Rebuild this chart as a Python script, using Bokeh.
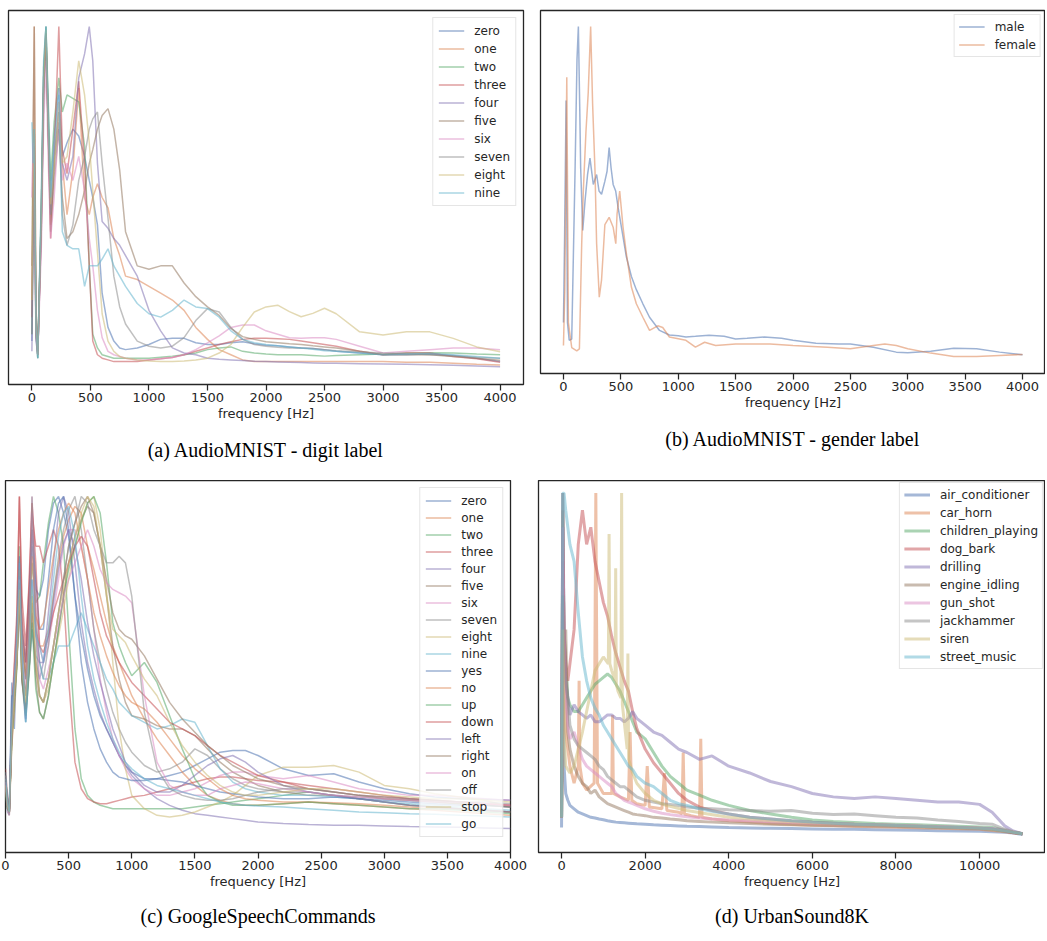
from bokeh.plotting import figure
from bokeh.models import Range1d, Legend, LegendItem, Title, FixedTicker
from bokeh.layouts import column, row
from bokeh.embed import file_html
from bokeh.resources import INLINE

DEEP = ["#4C72B0", "#DD8452", "#55A868", "#C44E52", "#8172B3",
        "#937860", "#DA8BC3", "#8C8C8C", "#CCB974", "#64B5CD"]
INK = "#262626"

# ---------------- (a) AudioMNIST - digit label ----------------
freq_a = [0, 10, 20, 35, 50, 80, 100, 120, 140, 160, 190, 230,
          260, 300, 350, 400, 450, 490, 520, 560, 600, 650, 700, 750, 800, 900, 1000, 1100, 1200,
          1300, 1400, 1500, 1600, 1700, 1800, 1900, 2000, 2100, 2200, 2300, 2400, 2500, 2600,
          2800, 3000, 3200, 3400, 3600, 3800, 4000]
a_zero = [0.08, 0.5, 0.65, 0.15, 0.03, 0.45, 0.85, 1.0, 0.72, 0.5, 0.68, 0.82,
          0.62, 0.66, 0.7, 0.68, 0.62, 0.55, 0.5, 0.42, 0.22, 0.12, 0.08, 0.06, 0.055, 0.06, 0.07, 0.085, 0.088,
          0.088, 0.075, 0.07, 0.07, 0.075, 0.078, 0.072, 0.068, 0.066, 0.063, 0.06, 0.058, 0.055, 0.05,
          0.045, 0.04, 0.04, 0.042, 0.038, 0.03, 0.02]
a_one = [0.2, 0.6, 1.0, 0.12, 0.04, 0.4, 0.8, 0.98, 0.7, 0.42, 0.6, 0.78,
         0.6, 0.45, 0.58, 0.82, 0.5, 0.45, 0.5, 0.54, 0.5, 0.47, 0.38, 0.33, 0.27, 0.26, 0.24, 0.22, 0.2,
         0.17, 0.12, 0.085, 0.055, 0.04, 0.025, 0.02, 0.02, 0.02, 0.02, 0.02, 0.02, 0.02, 0.02,
         0.02, 0.02, 0.018, 0.018, 0.015, 0.012, 0.01]
a_two = [0.1, 0.4, 0.6, 0.1, 0.03, 0.48, 0.88, 1.0, 0.78, 0.55, 0.72, 0.85,
         0.75, 0.8, 0.79, 0.78, 0.65, 0.3, 0.1, 0.06, 0.04, 0.035, 0.03, 0.03, 0.03, 0.03, 0.03, 0.033, 0.036,
         0.04, 0.045, 0.055, 0.06, 0.063, 0.05, 0.045, 0.042, 0.04, 0.04, 0.04, 0.038, 0.036, 0.038,
         0.04, 0.042, 0.045, 0.046, 0.045, 0.042, 0.04]
a_three = [0.15, 0.45, 0.7, 0.1, 0.05, 0.42, 0.82, 0.97, 0.68, 0.38, 0.62, 1.0,
           0.64, 0.57, 0.7, 0.84, 0.6, 0.3, 0.08, 0.04, 0.03, 0.025, 0.02, 0.02, 0.02, 0.02, 0.025, 0.028, 0.032,
           0.04, 0.05, 0.06, 0.07, 0.078, 0.085, 0.088, 0.088, 0.087, 0.085, 0.08, 0.075, 0.07, 0.065,
           0.05, 0.04, 0.045, 0.045, 0.035, 0.028, 0.018]
a_four = [0.05, 0.35, 0.55, 0.08, 0.04, 0.4, 0.8, 0.95, 0.7, 0.45, 0.62, 0.75,
          0.6, 0.55, 0.62, 0.85, 0.92, 1.0, 0.9, 0.6, 0.43, 0.41, 0.38, 0.36, 0.33, 0.27, 0.17, 0.11, 0.06,
          0.045, 0.04, 0.03, 0.027, 0.025, 0.023, 0.021, 0.02, 0.019, 0.018, 0.017, 0.016, 0.015, 0.015,
          0.014, 0.013, 0.012, 0.011, 0.009, 0.007, 0.005]
a_five = [0.3, 0.7, 1.0, 0.15, 0.05, 0.45, 0.85, 0.98, 0.7, 0.4, 0.55, 0.7,
          0.5, 0.38, 0.4, 0.45, 0.52, 0.6, 0.64, 0.7, 0.74, 0.76, 0.7, 0.58, 0.4, 0.3, 0.29, 0.3, 0.3,
          0.25, 0.21, 0.18, 0.155, 0.117, 0.093, 0.085, 0.078, 0.075, 0.072, 0.07, 0.066, 0.063, 0.06,
          0.05, 0.04, 0.04, 0.04, 0.035, 0.03, 0.024]
a_six = [0.5, 0.66, 0.55, 0.1, 0.04, 0.35, 0.7, 0.9, 0.6, 0.38, 0.5, 0.72,
         0.55, 0.6, 0.55, 0.62, 0.52, 0.38, 0.3, 0.17, 0.09, 0.05, 0.04, 0.035, 0.03, 0.025, 0.025, 0.028, 0.032,
         0.04, 0.055, 0.075, 0.095, 0.12, 0.127, 0.127, 0.11, 0.1, 0.09, 0.088, 0.09, 0.09, 0.085,
         0.065, 0.045, 0.05, 0.055, 0.06, 0.06, 0.055]
a_seven = [0.1, 0.45, 0.62, 0.1, 0.04, 0.42, 0.8, 0.96, 0.68, 0.45, 0.6, 0.72,
           0.45, 0.36, 0.42, 0.55, 0.62, 0.7, 0.73, 0.75, 0.6, 0.44, 0.27, 0.18, 0.13, 0.08, 0.065, 0.06, 0.065,
           0.09, 0.14, 0.175, 0.165, 0.12, 0.085, 0.07, 0.065, 0.062, 0.06, 0.06, 0.058, 0.055, 0.052,
           0.048, 0.045, 0.043, 0.04, 0.037, 0.033, 0.03]
a_eight = [0.2, 0.5, 0.7, 0.12, 0.04, 0.45, 0.84, 0.99, 0.72, 0.48, 0.6, 0.75,
           0.6, 0.62, 0.75, 0.9, 0.8, 0.66, 0.52, 0.34, 0.16, 0.08, 0.05, 0.035, 0.03, 0.025, 0.022, 0.02, 0.02,
           0.022, 0.025, 0.03, 0.045, 0.07, 0.12, 0.165, 0.18, 0.185, 0.166, 0.151, 0.161, 0.176, 0.16,
           0.107, 0.098, 0.107, 0.107, 0.088, 0.063, 0.049]
a_nine = [0.72, 0.6, 0.7, 0.12, 0.03, 0.5, 0.9, 1.0, 0.75, 0.5, 0.65, 0.8,
          0.4, 0.36, 0.35, 0.35, 0.24, 0.3, 0.3, 0.3, 0.32, 0.35, 0.3, 0.27, 0.24, 0.19, 0.16, 0.15, 0.17,
          0.2, 0.18, 0.175, 0.15, 0.11, 0.085, 0.075, 0.07, 0.066, 0.063, 0.06, 0.056, 0.052, 0.05,
          0.045, 0.04, 0.042, 0.044, 0.04, 0.035, 0.03]
digit_labels = ["zero", "one", "two", "three", "four", "five", "six", "seven", "eight", "nine"]
digit_values = [a_zero, a_one, a_two, a_three, a_four, a_five, a_six, a_seven, a_eight, a_nine]

# ---------------- (b) AudioMNIST - gender label ----------------
male_x = [0, 10, 23, 35, 50, 72, 101, 118, 130, 142, 150, 168, 188, 210, 231, 260, 289, 310, 332, 361,
          380, 398, 415, 433, 455, 476, 505, 548, 592, 635, 692, 750, 837, 923, 1000, 1067, 1150, 1269,
          1400, 1500, 1600, 1750, 1900, 2000, 2200, 2400, 2500, 2700, 2900, 3000, 3200, 3400, 3600, 3800, 4000]
male_y = [0.1, 0.36, 0.775, 0.1, 0.046, 0.05, 0.56, 0.9, 1.0, 0.75, 0.57, 0.38, 0.47, 0.55, 0.6, 0.52, 0.55,
          0.5, 0.49, 0.53, 0.56, 0.632, 0.57, 0.52, 0.5, 0.45, 0.39, 0.3, 0.24, 0.2, 0.157, 0.116, 0.076,
          0.062, 0.06, 0.056, 0.058, 0.061, 0.058, 0.05, 0.052, 0.056, 0.052, 0.046, 0.037, 0.035, 0.035,
          0.025, 0.01, 0.008, 0.013, 0.022, 0.02, 0.01, 0.002]
female_x = [0, 12, 29, 43, 72, 116, 139, 159, 173, 196, 216, 237, 254, 275, 289, 312, 332, 361, 398, 433,
            456, 467, 490, 519, 548, 592, 635, 692, 750, 822, 865, 923, 1067, 1150, 1230, 1326, 1500, 1800,
            2000, 2300, 2500, 2700, 2800, 2900, 3000, 3200, 3400, 3600, 3800, 4000]
female_y = [0.03, 0.2, 0.846, 0.1, 0.024, 0.014, 0.02, 0.34, 0.5, 0.68, 0.8, 1.0, 0.765, 0.56, 0.34, 0.177,
            0.23, 0.398, 0.42, 0.39, 0.34, 0.43, 0.5, 0.39, 0.31, 0.208, 0.157, 0.116, 0.076, 0.09, 0.085,
            0.056, 0.046, 0.025, 0.04, 0.03, 0.035, 0.035, 0.03, 0.025, 0.02, 0.03, 0.035, 0.03, 0.02,
            0.007, -0.003, -0.003, 0.0, 0.003]
gender_labels = ["male", "female"]

# ---------------- (c) GoogleSpeechCommands ----------------
freq_c = [0, 15, 30, 50, 70, 90, 110, 130, 160, 190, 210, 240,
          270, 300, 340, 380, 420, 460, 500, 550, 600, 650, 700, 750, 800, 850, 900, 950, 1000, 1100,
          1200, 1300, 1400, 1500, 1600, 1700, 1800, 1900, 2000, 2200, 2400, 2600, 2800, 3000, 3200,
          3400, 3600, 3800, 4000]
c_zero = [0.15, 0.08, 0.05, 0.44, 0.3, 0.55, 0.8, 0.55, 0.45, 0.7, 0.85, 0.72,
          0.7, 0.75, 0.9, 0.98, 1.0, 0.95, 0.88, 0.7, 0.58, 0.48, 0.4, 0.34, 0.3, 0.26, 0.22, 0.19, 0.17,
          0.15, 0.15, 0.16, 0.17, 0.19, 0.21, 0.23, 0.235, 0.235, 0.22, 0.18, 0.16, 0.165, 0.14, 0.12,
          0.105, 0.095, 0.09, 0.088, 0.085]
c_one = [0.12, 0.06, 0.04, 0.25, 0.35, 0.5, 0.75, 0.5, 0.4, 0.55, 0.7, 0.6,
         0.55, 0.55, 0.6, 0.7, 0.8, 0.88, 0.93, 0.97, 0.95, 0.85, 0.78, 0.7, 0.62, 0.55, 0.5, 0.45, 0.4,
         0.33, 0.27, 0.22, 0.17, 0.13, 0.1, 0.085, 0.075, 0.07, 0.07, 0.075, 0.08, 0.075, 0.07, 0.065,
         0.06, 0.055, 0.05, 0.045, 0.04]
c_two = [0.1, 0.06, 0.05, 0.3, 0.4, 0.55, 0.85, 0.6, 0.45, 0.65, 0.8, 0.68,
         0.7, 0.8, 0.92, 1.0, 0.95, 0.85, 0.6, 0.3, 0.15, 0.1, 0.08, 0.07, 0.065, 0.06, 0.06, 0.06, 0.06,
         0.06, 0.06, 0.06, 0.06, 0.065, 0.07, 0.075, 0.08, 0.085, 0.09, 0.1, 0.11, 0.1, 0.09, 0.08,
         0.07, 0.065, 0.06, 0.055, 0.05]
c_three = [0.18, 0.1, 0.06, 0.35, 0.5, 0.65, 1.0, 0.7, 0.55, 0.75, 0.95, 0.85,
           0.85, 0.8, 0.85, 0.9, 0.85, 0.7, 0.45, 0.2, 0.12, 0.09, 0.08, 0.075, 0.075, 0.08, 0.085, 0.09, 0.095,
           0.1, 0.11, 0.12, 0.13, 0.14, 0.15, 0.155, 0.155, 0.15, 0.145, 0.14, 0.13, 0.12, 0.11, 0.1,
           0.09, 0.085, 0.08, 0.075, 0.07]
c_four = [0.12, 0.05, 0.04, 0.3, 0.45, 0.5, 0.7, 0.45, 0.32, 0.5, 0.6, 0.5,
          0.45, 0.5, 0.65, 0.8, 0.95, 1.0, 0.95, 0.8, 0.62, 0.5, 0.42, 0.35, 0.3, 0.26, 0.22, 0.19, 0.16,
          0.12, 0.09, 0.07, 0.055, 0.045, 0.04, 0.035, 0.03, 0.025, 0.02, 0.015, 0.012, 0.01, 0.01, 0.008,
          0.006, 0.005, 0.004, 0.002, 0.0]
c_five = [0.16, 0.08, 0.05, 0.28, 0.4, 0.5, 0.75, 0.45, 0.35, 0.5, 0.65, 0.45,
          0.35, 0.33, 0.4, 0.5, 0.6, 0.7, 0.8, 0.88, 0.93, 0.97, 0.95, 0.85, 0.7, 0.55, 0.45, 0.38, 0.34,
          0.33, 0.31, 0.3, 0.3, 0.28, 0.24, 0.2, 0.17, 0.15, 0.13, 0.11, 0.1, 0.1, 0.09, 0.08,
          0.07, 0.065, 0.06, 0.055, 0.05]
c_six = [0.14, 0.07, 0.05, 0.3, 0.45, 0.6, 0.8, 0.6, 0.48, 0.7, 1.0, 0.7,
         0.55, 0.5, 0.55, 0.65, 0.75, 0.85, 0.9, 0.9, 0.85, 0.75, 0.6, 0.45, 0.35, 0.27, 0.22, 0.18, 0.15,
         0.12, 0.1, 0.1, 0.11, 0.12, 0.14, 0.16, 0.17, 0.17, 0.16, 0.15, 0.16, 0.14, 0.12, 0.11,
         0.1, 0.1, 0.095, 0.09, 0.085]
c_seven = [0.15, 0.08, 0.06, 0.32, 0.42, 0.55, 0.78, 0.55, 0.45, 0.65, 0.9, 0.65,
           0.5, 0.45, 0.55, 0.7, 0.82, 0.9, 0.96, 1.0, 0.9, 0.75, 0.6, 0.5, 0.42, 0.35, 0.3, 0.26, 0.23,
           0.19, 0.17, 0.18, 0.2, 0.24, 0.22, 0.18, 0.15, 0.13, 0.12, 0.11, 0.11, 0.1, 0.095, 0.09,
           0.085, 0.08, 0.075, 0.07, 0.065]
c_eight = [0.13, 0.07, 0.05, 0.27, 0.38, 0.5, 0.72, 0.48, 0.38, 0.55, 0.7, 0.5,
           0.4, 0.38, 0.42, 0.5, 0.58, 0.66, 0.75, 0.85, 0.93, 0.98, 1.0, 0.9, 0.72, 0.5, 0.3, 0.18, 0.1,
           0.06, 0.04, 0.035, 0.04, 0.05, 0.065, 0.08, 0.1, 0.13, 0.16, 0.185, 0.185, 0.19, 0.17, 0.13,
           0.12, 0.105, 0.095, 0.085, 0.065]
c_nine = [0.17, 0.09, 0.06, 0.33, 0.45, 0.5, 0.7, 0.5, 0.32, 0.5, 0.6, 0.52,
          0.5, 0.45, 0.45, 0.5, 0.55, 0.55, 0.55, 0.6, 0.65, 0.6, 0.55, 0.5, 0.45, 0.42, 0.38, 0.36, 0.34,
          0.32, 0.3, 0.31, 0.33, 0.32, 0.25, 0.18, 0.14, 0.12, 0.11, 0.1, 0.1, 0.095, 0.09, 0.08,
          0.075, 0.07, 0.065, 0.06, 0.055]
c_yes = [0.15, 0.07, 0.05, 0.4, 0.4, 0.6, 0.82, 0.6, 0.5, 0.72, 0.9, 0.75,
         0.6, 0.6, 0.75, 0.9, 0.98, 1.0, 0.9, 0.7, 0.5, 0.38, 0.3, 0.24, 0.2, 0.17, 0.155, 0.15, 0.145,
         0.145, 0.15, 0.145, 0.14, 0.13, 0.12, 0.11, 0.105, 0.1, 0.095, 0.09, 0.09, 0.095, 0.09, 0.085,
         0.08, 0.075, 0.07, 0.07, 0.065]
c_no = [0.13, 0.07, 0.05, 0.3, 0.42, 0.55, 0.78, 0.58, 0.46, 0.66, 0.82, 0.64,
        0.6, 0.62, 0.72, 0.82, 0.9, 0.95, 0.98, 0.95, 0.85, 0.75, 0.65, 0.58, 0.52, 0.47, 0.43, 0.4, 0.38,
        0.36, 0.32, 0.27, 0.22, 0.18, 0.15, 0.12, 0.1, 0.09, 0.085, 0.08, 0.08, 0.078, 0.075, 0.07,
        0.065, 0.06, 0.06, 0.055, 0.05]
c_up = [0.12, 0.06, 0.05, 0.26, 0.38, 0.48, 0.72, 0.45, 0.34, 0.48, 0.62, 0.42,
        0.35, 0.33, 0.4, 0.5, 0.6, 0.7, 0.78, 0.85, 0.92, 0.98, 1.0, 0.95, 0.8, 0.62, 0.55, 0.5, 0.46,
        0.5, 0.44, 0.34, 0.24, 0.15, 0.1, 0.08, 0.07, 0.07, 0.07, 0.075, 0.08, 0.075, 0.07, 0.065,
        0.06, 0.06, 0.055, 0.05, 0.045]
c_down = [0.16, 0.08, 0.05, 0.32, 0.48, 0.62, 1.0, 0.65, 0.5, 0.78, 0.98, 0.8,
          0.55, 0.53, 0.58, 0.65, 0.7, 0.75, 0.8, 0.85, 0.88, 0.85, 0.75, 0.65, 0.58, 0.54, 0.5, 0.47, 0.44,
          0.4, 0.36, 0.32, 0.3, 0.28, 0.25, 0.22, 0.2, 0.18, 0.16, 0.14, 0.12, 0.11, 0.1, 0.095,
          0.09, 0.085, 0.08, 0.075, 0.07]
c_left = [0.14, 0.07, 0.05, 0.3, 0.45, 0.55, 0.76, 0.5, 0.33, 0.6, 0.75, 0.6,
          0.5, 0.5, 0.58, 0.68, 0.78, 0.86, 0.9, 0.85, 0.75, 0.62, 0.52, 0.44, 0.37, 0.3, 0.25, 0.2, 0.17,
          0.13, 0.11, 0.11, 0.13, 0.16, 0.19, 0.21, 0.22, 0.2, 0.17, 0.13, 0.11, 0.1, 0.09, 0.08,
          0.07, 0.065, 0.06, 0.055, 0.05]
c_right = [0.15, 0.08, 0.05, 0.28, 0.4, 0.5, 0.7, 0.45, 0.36, 0.5, 0.68, 0.48,
           0.4, 0.38, 0.45, 0.55, 0.65, 0.75, 0.85, 0.92, 0.97, 1.0, 0.95, 0.85, 0.75, 0.65, 0.6, 0.58, 0.57,
           0.52, 0.45, 0.38, 0.33, 0.29, 0.25, 0.22, 0.19, 0.17, 0.15, 0.13, 0.12, 0.11, 0.1, 0.09,
           0.085, 0.08, 0.075, 0.07, 0.065]
c_on = [0.14, 0.07, 0.05, 0.3, 0.43, 0.55, 0.75, 0.52, 0.42, 0.62, 0.95, 0.6,
        0.45, 0.42, 0.48, 0.55, 0.62, 0.7, 0.75, 0.8, 0.85, 0.9, 0.85, 0.78, 0.74, 0.72, 0.71, 0.7, 0.68,
        0.4, 0.2, 0.13, 0.11, 0.1, 0.1, 0.12, 0.13, 0.14, 0.135, 0.12, 0.11, 0.1, 0.095, 0.09,
        0.085, 0.08, 0.08, 0.075, 0.07]
c_off = [0.15, 0.08, 0.05, 0.3, 0.42, 0.52, 0.74, 0.5, 0.4, 0.6, 1.0, 0.58,
         0.4, 0.38, 0.45, 0.55, 0.65, 0.75, 0.85, 0.92, 1.0, 0.98, 0.9, 0.85, 0.8, 0.8, 0.82, 0.8, 0.7,
         0.35, 0.18, 0.12, 0.1, 0.09, 0.085, 0.085, 0.09, 0.1, 0.11, 0.12, 0.12, 0.11, 0.1, 0.095,
         0.09, 0.085, 0.08, 0.08, 0.075]
c_stop = [0.13, 0.07, 0.05, 0.28, 0.4, 0.5, 0.72, 0.48, 0.38, 0.55, 0.72, 0.5,
          0.4, 0.38, 0.45, 0.55, 0.65, 0.72, 0.8, 0.88, 0.95, 1.0, 0.97, 0.85, 0.7, 0.6, 0.58, 0.56, 0.52,
          0.45, 0.4, 0.32, 0.25, 0.2, 0.16, 0.13, 0.11, 0.1, 0.1, 0.11, 0.12, 0.12, 0.11, 0.1,
          0.095, 0.09, 0.09, 0.085, 0.08]
c_go = [0.16, 0.08, 0.05, 0.35, 0.45, 0.58, 0.8, 0.55, 0.32, 0.55, 0.75, 0.58,
        0.55, 0.5, 0.6, 0.75, 0.88, 0.95, 0.97, 0.88, 0.7, 0.55, 0.45, 0.38, 0.32, 0.27, 0.23, 0.2, 0.18,
        0.15, 0.13, 0.12, 0.11, 0.1, 0.09, 0.08, 0.075, 0.07, 0.068, 0.065, 0.06, 0.055, 0.05, 0.048,
        0.045, 0.043, 0.04, 0.038, 0.035]
command_labels = ["zero", "one", "two", "three", "four", "five", "six", "seven", "eight", "nine",
                  "yes", "no", "up", "down", "left", "right", "on", "off", "stop", "go"]
command_values = [c_zero, c_one, c_two, c_three, c_four, c_five, c_six, c_seven, c_eight, c_nine,
                  c_yes, c_no, c_up, c_down, c_left, c_right, c_on, c_off, c_stop, c_go]

# ---------------- (d) UrbanSound8K ----------------
freq_d = [0, 30, 60, 100, 150, 200, 300, 400, 500, 600, 700, 800, 900, 1000, 1100, 1200, 1300, 1400,
          1500, 1600, 1700, 1800, 2000, 2200, 2400, 2600, 2800, 3000, 3300, 3600, 4000, 4500, 5000,
          5500, 6000, 6500, 7000, 7500, 8000, 8500, 9000, 9500, 10000, 10300, 10600, 10800, 11025]
d_air = [0.02, 0.6, 0.2, 0.12, 0.1, 0.085, 0.075, 0.065, 0.06, 0.055, 0.05, 0.048, 0.045, 0.043, 0.04,
         0.038, 0.036, 0.035, 0.034, 0.033, 0.032, 0.031, 0.03, 0.028, 0.027, 0.026, 0.025, 0.024, 0.023,
         0.022, 0.02, 0.019, 0.018, 0.017, 0.016, 0.015, 0.015, 0.014, 0.013, 0.012, 0.011, 0.01, 0.009,
         0.008, 0.006, 0.004, 0.0]
horn_x = [0, 30, 60, 100, 200, 300, 400, 420, 440, 500, 600, 780, 820, 860, 1000, 1200, 1220, 1240, 1400,
          1600, 1640, 1680, 1800, 2000, 2050, 2100, 2400, 2460, 2520, 2800, 2880, 2910, 2940, 3100, 3300,
          3330, 3360, 3600, 4000, 5000, 6000, 7000, 8000, 9000, 10000, 10600, 11025]
horn_y = [0.05, 0.95, 0.5, 0.3, 0.2, 0.15, 0.2, 0.45, 0.2, 0.15, 0.13, 0.15, 1.0, 0.15, 0.12, 0.12, 0.35,
          0.12, 0.11, 0.1, 0.3, 0.1, 0.09, 0.085, 0.2, 0.08, 0.075, 0.18, 0.07, 0.065, 0.06, 0.24, 0.06,
          0.055, 0.05, 0.28, 0.05, 0.045, 0.04, 0.032, 0.027, 0.024, 0.021, 0.018, 0.015, 0.008, 0.002]
d_children = [0.05, 0.9, 0.6, 0.5, 0.4, 0.38, 0.36, 0.36, 0.38, 0.4, 0.42, 0.44, 0.45, 0.46, 0.47, 0.46,
              0.44, 0.42, 0.39, 0.36, 0.33, 0.3, 0.28, 0.24, 0.2, 0.17, 0.15, 0.13, 0.115, 0.1, 0.085,
              0.07, 0.06, 0.05, 0.042, 0.038, 0.035, 0.032, 0.03, 0.028, 0.026, 0.024, 0.022, 0.02,
              0.012, 0.006, 0.002]
d_dog = [0.05, 0.8, 0.6, 0.5, 0.45, 0.5, 0.6, 0.85, 0.95, 0.85, 0.9, 0.8, 0.74, 0.68, 0.64, 0.58, 0.53,
         0.49, 0.45, 0.42, 0.36, 0.31, 0.25, 0.21, 0.18, 0.15, 0.12, 0.1, 0.08, 0.07, 0.06, 0.05, 0.045,
         0.04, 0.036, 0.033, 0.03, 0.028, 0.026, 0.024, 0.022, 0.02, 0.018, 0.016, 0.01, 0.005, 0.002]
d_drilling = [0.1, 1.0, 0.6, 0.45, 0.4, 0.35, 0.38, 0.36, 0.35, 0.34, 0.35, 0.33, 0.33, 0.34, 0.35, 0.35,
              0.34, 0.34, 0.33, 0.34, 0.36, 0.34, 0.32, 0.3, 0.29, 0.27, 0.25, 0.24, 0.22, 0.23, 0.2,
              0.18, 0.155, 0.14, 0.12, 0.11, 0.105, 0.11, 0.105, 0.1, 0.095, 0.095, 0.088, 0.065, 0.025,
              0.01, 0.002]
d_engine = [0.05, 1.0, 0.5, 0.6, 0.3, 0.25, 0.2, 0.17, 0.15, 0.14, 0.12, 0.13, 0.11, 0.1, 0.09, 0.085,
            0.08, 0.075, 0.07, 0.065, 0.06, 0.058, 0.055, 0.05, 0.048, 0.045, 0.043, 0.04, 0.038, 0.036,
            0.034, 0.032, 0.03, 0.028, 0.027, 0.026, 0.025, 0.024, 0.023, 0.022, 0.02, 0.019, 0.017,
            0.015, 0.01, 0.006, 0.002]
d_gun = [0.05, 0.9, 0.6, 0.4, 0.32, 0.28, 0.3, 0.26, 0.22, 0.2, 0.19, 0.18, 0.17, 0.16, 0.15, 0.14, 0.12,
         0.11, 0.1, 0.095, 0.09, 0.085, 0.075, 0.068, 0.062, 0.058, 0.055, 0.052, 0.048, 0.045, 0.042,
         0.04, 0.037, 0.035, 0.033, 0.031, 0.03, 0.028, 0.027, 0.025, 0.023, 0.021, 0.019, 0.017, 0.012,
         0.007, 0.002]
d_jack = [0.05, 0.7, 0.5, 0.45, 0.4, 0.32, 0.28, 0.26, 0.25, 0.24, 0.23, 0.22, 0.2, 0.19, 0.17, 0.16,
          0.15, 0.14, 0.14, 0.13, 0.12, 0.11, 0.1, 0.095, 0.09, 0.088, 0.085, 0.08, 0.077, 0.075, 0.072,
          0.07, 0.068, 0.07, 0.062, 0.058, 0.06, 0.055, 0.05, 0.048, 0.042, 0.038, 0.032, 0.03, 0.015,
          0.008, 0.002]
siren_x = [0, 30, 60, 100, 200, 300, 400, 500, 600, 700, 800, 900, 1000, 1120, 1137, 1155, 1200, 1280,
           1295, 1310, 1350, 1420, 1437, 1455, 1500, 1570, 1587, 1605, 1700, 1800, 2000, 2200, 2500,
           3000, 3500, 4000, 5000, 6000, 7000, 8000, 9000, 10000, 10600, 11025]
siren_y = [0.05, 0.6, 0.3, 0.2, 0.18, 0.2, 0.25, 0.3, 0.36, 0.42, 0.48, 0.5, 0.52, 0.5, 0.88, 0.5, 0.48,
           0.45, 0.78, 0.44, 0.42, 0.4, 1.0, 0.38, 0.33, 0.25, 0.53, 0.22, 0.18, 0.15, 0.12, 0.1, 0.085,
           0.07, 0.06, 0.05, 0.04, 0.034, 0.03, 0.026, 0.022, 0.018, 0.01, 0.002]
d_street = [0.05, 1.0, 1.0, 0.95, 0.9, 0.85, 0.8, 0.65, 0.52, 0.45, 0.4, 0.37, 0.35, 0.32, 0.3, 0.28,
            0.26, 0.24, 0.22, 0.2, 0.19, 0.17, 0.15, 0.14, 0.12, 0.1, 0.09, 0.085, 0.075, 0.068, 0.06,
            0.05, 0.045, 0.04, 0.036, 0.033, 0.03, 0.028, 0.026, 0.024, 0.022, 0.02, 0.018, 0.016, 0.01,
            0.006, 0.002]
urban_labels = ["air_conditioner", "car_horn", "children_playing", "dog_bark", "drilling",
                "engine_idling", "gun_shot", "jackhammer", "siren", "street_music"]

ticks_4k = [0, 500, 1000, 1500, 2000, 2500, 3000, 3500, 4000]
ticks_11k = [0, 2000, 4000, 6000, 8000, 10000]


def make_panel(xr, yr, ticks, caption, fw, fh, bl, br, bt, bb, series, lw, alpha,
               leg_margin, leg_spacing, leg_padding, cap_standoff):
    p = figure(title=None, x_range=Range1d(*xr), y_range=Range1d(*yr),
               frame_width=fw, frame_height=fh, output_backend="svg", toolbar_location=None,
               y_axis_location=None, min_border_left=bl, min_border_right=br,
               min_border_top=bt, min_border_bottom=bb, background_fill_color="white",
               border_fill_color="white")
    p.xgrid.visible = False
    p.ygrid.visible = False
    p.outline_line_color = INK
    p.outline_line_width = 1.3
    p.outline_line_alpha = 1.0
    ax = p.xaxis[0]
    ax.ticker = FixedTicker(ticks=ticks)
    ax.axis_line_color = None
    ax.major_tick_line_color = INK
    ax.major_tick_line_width = 1.25
    ax.major_tick_out = 6
    ax.major_tick_in = 0
    ax.minor_tick_line_color = None
    ax.major_label_text_font = "DejaVu Sans"
    ax.major_label_text_font_size = "13px"
    ax.major_label_text_color = INK
    ax.major_label_standoff = 2
    ax.axis_label = "frequency [Hz]"
    ax.axis_label_text_font = "DejaVu Sans"
    ax.axis_label_text_font_size = "13px"
    ax.axis_label_text_font_style = "normal"
    ax.axis_label_text_color = INK
    ax.axis_label_standoff = 1
    items = []
    for i, (name, xs, ys) in enumerate(series):
        r = p.line(xs, ys, line_color=DEEP[i % 10], line_alpha=alpha, line_width=lw)
        items.append(LegendItem(label=name, renderers=[r]))
    leg = Legend(items=items, location="top_right", margin=leg_margin, padding=leg_padding,
                 spacing=leg_spacing, glyph_width=26, glyph_height=15, label_height=15,
                 label_standoff=10, label_text_font="DejaVu Sans", label_text_font_size="12px",
                 label_text_color=INK, border_line_color="#cccccc", border_line_width=1,
                 background_fill_color="white", background_fill_alpha=0.8)
    p.add_layout(leg)
    cap = Title(text=caption, align="center", text_font="Liberation Serif",
                text_font_size="20px", text_font_style="normal", text_color="black",
                standoff=cap_standoff)
    p.add_layout(cap, "below")
    return p


series_a = [(n, freq_a, v) for n, v in zip(digit_labels, digit_values)]
series_b = [(gender_labels[0], male_x, male_y), (gender_labels[1], female_x, female_y)]
series_c = [(n, freq_c, v) for n, v in zip(command_labels, command_values)]
series_d = [(urban_labels[0], freq_d, d_air), (urban_labels[1], horn_x, horn_y),
            (urban_labels[2], freq_d, d_children), (urban_labels[3], freq_d, d_dog),
            (urban_labels[4], freq_d, d_drilling), (urban_labels[5], freq_d, d_engine),
            (urban_labels[6], freq_d, d_gun), (urban_labels[7], freq_d, d_jack),
            (urban_labels[8], siren_x, siren_y), (urban_labels[9], freq_d, d_street)]

pa = make_panel((-200, 4200), (-0.047, 1.047), ticks_4k, "(a) AudioMNIST - digit label",
                515, 374, 8, 9, 4, 102, series_a, 1.5, 0.55, 7, 3, 5, 27)
pb = make_panel((-200, 4200), (-0.055, 1.049), ticks_4k, "(b) AudioMNIST - gender label",
                505, 363, 8, 0, 10, 107, series_b, 1.5, 0.55, 4, 3, 4, 26)
pc = make_panel((0, 4000), (-0.072, 1.048), ticks_4k, "(c) GoogleSpeechCommands",
                505, 372, 5, 20, 0, 80, series_c, 1.5, 0.55, 7, 2, 5, 22)
pd = make_panel((-551.25, 11576.25), (-0.053, 1.037), ticks_11k, "(d) UrbanSound8K",
                507, 372, 8, 0, 0, 80, series_d, 3, 0.5, 2, 3, 4, 22)

layout = column(row(pa, pb), row(pc, pd))
open("out.html", "w").write(file_html(layout, INLINE))
